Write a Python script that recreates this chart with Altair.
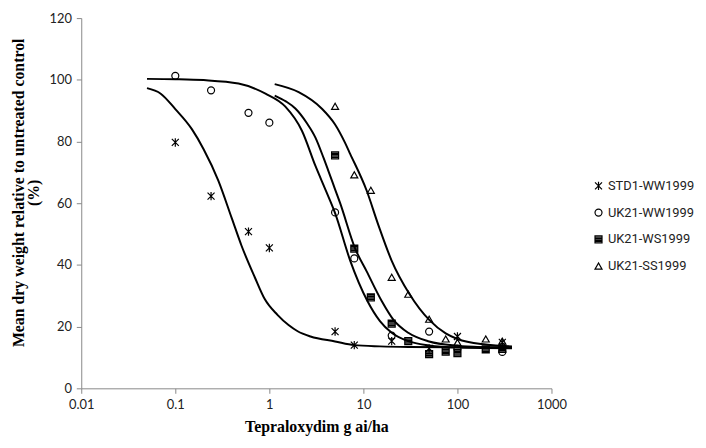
import altair as alt
import pandas as pd

series_names = ["STD1-WW1999", "UK21-WW1999", "UK21-WS1999", "UK21-SS1999"]

# Observed points
std1_dose = [0.1, 0.24, 0.6, 1, 5, 8, 20, 50, 100, 300]
std1_resp = [79.7, 62.3, 50.8, 45.5, 18.4, 14.0, 15.3, 12.9, 16.8, 14.9]

ww_dose = [0.1, 0.24, 0.6, 1, 5, 8, 20, 50, 100, 300]
ww_resp = [101.3, 96.6, 89.3, 86.1, 57.0, 42.1, 17.1, 18.4, 12.8, 11.8]

ws_dose = [5, 8, 12, 20, 30, 50, 75, 100, 200, 300]
ws_resp = [75.5, 45.3, 29.5, 21.0, 15.3, 11.1, 11.9, 11.4, 12.6, 12.8]

ss_dose = [5, 8, 12, 20, 30, 50, 75, 100, 200, 300]
ss_resp = [91.4, 69.2, 64.2, 36.0, 30.5, 22.4, 16.0, 14.9, 16.0, 15.3]

# Fitted curves
std1_curve_x = [0.05, 0.07, 0.1, 0.15, 0.2, 0.286, 0.4, 0.505, 0.7, 0.89, 1.22, 1.6, 2, 2.74, 5, 8, 15, 30, 100, 380]
std1_curve_y = [97.3, 95.5, 90.5, 84, 77.5, 67.4, 55, 46.3, 36, 29, 23.8, 20.5, 18.5, 16.8, 15.2, 14.0, 13.6, 13.4, 13.3, 13.3]

ww_curve_x = [0.05, 0.1, 0.2, 0.47, 0.91, 1.48, 2.22, 3.1, 4, 5, 7.22, 11, 15, 20, 30, 50, 100, 200, 380]
ww_curve_y = [100.3, 100.2, 99.9, 98.8, 95.5, 91.3, 83.5, 72, 64, 56.8, 41.5, 28.4, 21.8, 18.0, 15.3, 13.9, 13.2, 13.05, 13.0]

ws_curve_x = [1.14, 1.5, 1.89, 2.5, 3.1, 3.79, 4.24, 5, 5.66, 8.17, 10.8, 15.6, 20.8, 30, 50, 100, 200, 380]
ws_curve_y = [94.9, 93.0, 90.7, 86, 81.2, 74.5, 70.5, 64.5, 60, 45.3, 38, 28.4, 22.3, 18.0, 15.2, 13.8, 13.3, 13.1]

ss_curve_x = [1.14, 2.05, 3.6, 5, 6.35, 7.23, 10.8, 14.4, 19.9, 31, 50.4, 75, 100, 200, 380]
ss_curve_y = [98.6, 96.0, 90.7, 85.5, 79.7, 76, 64.2, 53, 41.5, 30.5, 22.1, 17.8, 16.0, 14.2, 13.6]

x_ticks = [0.01, 0.1, 1, 10, 100, 1000]
y_ticks = [0, 20, 40, 60, 80, 100, 120]

pt_rows = []
for name, xs, ys in zip(series_names,
                        [std1_dose, ww_dose, ws_dose, ss_dose],
                        [std1_resp, ww_resp, ws_resp, ss_resp]):
    for x, y in zip(xs, ys):
        pt_rows.append({"series": name, "dose": x, "resp": y})
pts = pd.DataFrame(pt_rows)

cv_rows = []
for name, xs, ys in zip(series_names,
                        [std1_curve_x, ww_curve_x, ws_curve_x, ss_curve_x],
                        [std1_curve_y, ww_curve_y, ws_curve_y, ss_curve_y]):
    for i, (x, y) in enumerate(zip(xs, ys)):
        cv_rows.append({"series": name, "dose": x, "resp": y, "order": i})
cvs = pd.DataFrame(cv_rows)

star = "M-1,-1L1,1M-1,1L1,-1M0,-1.2L0,1.2"
solid_square = "M-1,-1H1V1H-1Z M-1,-0.6H1 M-1,-0.2H1 M-1,0.2H1 M-1,0.6H1"

x_scale = alt.Scale(type="log", domain=[0.01, 1000], nice=False)
y_scale = alt.Scale(domain=[0, 120], nice=False)

x_axis = alt.Axis(values=x_ticks, format="~g", title="Tepraloxydim g ai/ha", labelFlush=False)
y_axis = alt.Axis(values=y_ticks, title=["Mean dry weight relative to untreated control", "(%)"],
                  titleY=176, labelFlush=False)

lines = alt.Chart(cvs).mark_line(color="black", strokeWidth=2, interpolate="monotone").encode(
    x=alt.X("dose:Q", scale=x_scale, axis=x_axis),
    y=alt.Y("resp:Q", scale=y_scale, axis=y_axis),
    detail="series:N",
    order="order:Q",
)

points = alt.Chart(pts).mark_point(filled=False, color="black", strokeWidth=1.2, opacity=1, size=50).encode(
    x=alt.X("dose:Q", scale=x_scale),
    y=alt.Y("resp:Q", scale=y_scale),
    shape=alt.Shape("series:N",
                    scale=alt.Scale(domain=series_names,
                                    range=[star, "circle", solid_square, "triangle-up"]),
                    legend=alt.Legend(title=None, orient="none", legendX=516, legendY=163,
                                      labelFont="Roboto", labelFontSize=13, labelColor="#222222",
                                      rowPadding=13, symbolStrokeColor="black",
                                      symbolStrokeWidth=1.2, symbolSize=50, padding=0,
                                      labelOffset=3, labelLimit=200)),
)

chart = alt.layer(lines, points).properties(
    width=475, height=374,
    autosize=alt.AutoSizeParams(type="none"),
    padding={"left": 74, "top": 8, "right": 148, "bottom": 50},
).configure_view(stroke=None).configure_axis(
    grid=False,
    domainColor="#888888",
    tickColor="#888888",
    tickSize=5,
    labelFont="Lato",
    labelFontSize=13,
    labelColor="#222222",
    labelPadding=5,
    titleFont="Liberation Serif",
    titleFontWeight="bold",
    titleFontSize=16,
    titleColor="black",
).configure_axisX(titlePadding=8).configure_axisY(titlePadding=8, titleLineHeight=15)

chart.save("out.html", embed_options={"renderer": "svg", "actions": False})
